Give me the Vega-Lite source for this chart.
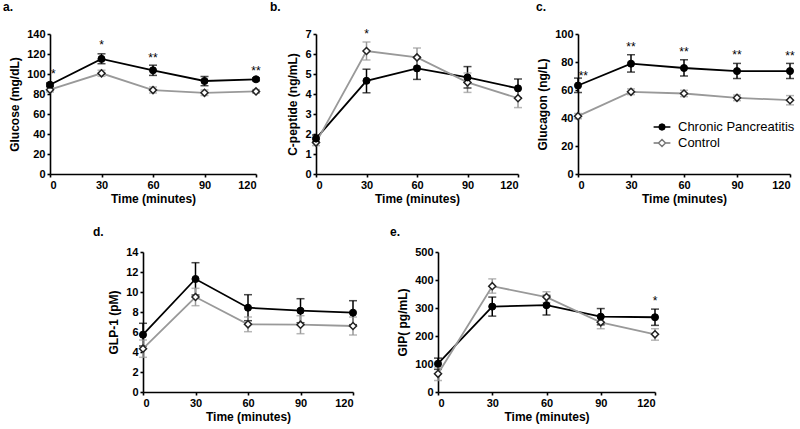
{
  "$schema": "https://vega.github.io/schema/vega-lite/v6.json",
  "padding": {"left": 3, "top": 1, "right": 2, "bottom": 2},
  "background": "#ffffff",
  "datasets": {
    "obs": [
      {"p": "a", "g": "Chronic Pancreatitis", "t": 0, "v": 89.3, "lo": 87.5, "hi": 91},
      {"p": "a", "g": "Chronic Pancreatitis", "t": 30, "v": 115.1, "lo": 110.3, "hi": 120.2},
      {"p": "a", "g": "Chronic Pancreatitis", "t": 60, "v": 103.7, "lo": 98.6, "hi": 108.8},
      {"p": "a", "g": "Chronic Pancreatitis", "t": 90, "v": 93, "lo": 88.3, "hi": 97.5},
      {"p": "a", "g": "Chronic Pancreatitis", "t": 120, "v": 94.7, "lo": 93.2, "hi": 96.2},
      {"p": "a", "g": "Control", "t": 0, "v": 84.3, "lo": 82, "hi": 86.5},
      {"p": "a", "g": "Control", "t": 30, "v": 100.7, "lo": 97.7, "hi": 103.8},
      {"p": "a", "g": "Control", "t": 60, "v": 83.9, "lo": 81, "hi": 87},
      {"p": "a", "g": "Control", "t": 90, "v": 81.2, "lo": 78.5, "hi": 84},
      {"p": "a", "g": "Control", "t": 120, "v": 82.6, "lo": 80.8, "hi": 84.4},
      {"p": "b", "g": "Chronic Pancreatitis", "t": 0, "v": 1.77, "lo": 1.6, "hi": 1.95},
      {"p": "b", "g": "Chronic Pancreatitis", "t": 30, "v": 4.66, "lo": 4.06, "hi": 5.24},
      {"p": "b", "g": "Chronic Pancreatitis", "t": 60, "v": 5.28, "lo": 4.73, "hi": 5.85},
      {"p": "b", "g": "Chronic Pancreatitis", "t": 90, "v": 4.83, "lo": 4.3, "hi": 5.37},
      {"p": "b", "g": "Chronic Pancreatitis", "t": 120, "v": 4.28, "lo": 3.8, "hi": 4.75},
      {"p": "b", "g": "Control", "t": 0, "v": 1.57, "lo": 1.42, "hi": 1.72},
      {"p": "b", "g": "Control", "t": 30, "v": 6.15, "lo": 5.7, "hi": 6.6},
      {"p": "b", "g": "Control", "t": 60, "v": 5.83, "lo": 5.38, "hi": 6.3},
      {"p": "b", "g": "Control", "t": 90, "v": 4.58, "lo": 4.08, "hi": 5.05},
      {"p": "b", "g": "Control", "t": 120, "v": 3.79, "lo": 3.32, "hi": 4.25},
      {"p": "c", "g": "Chronic Pancreatitis", "t": 0, "v": 63.2, "lo": 58.2, "hi": 68.5},
      {"p": "c", "g": "Chronic Pancreatitis", "t": 30, "v": 78.8, "lo": 72.8, "hi": 85.2},
      {"p": "c", "g": "Chronic Pancreatitis", "t": 60, "v": 75.7, "lo": 70, "hi": 81.6},
      {"p": "c", "g": "Chronic Pancreatitis", "t": 90, "v": 73.5, "lo": 68.2, "hi": 79},
      {"p": "c", "g": "Chronic Pancreatitis", "t": 120, "v": 73.5, "lo": 68.2, "hi": 79},
      {"p": "c", "g": "Control", "t": 0, "v": 41.3, "lo": 39.5, "hi": 43.2},
      {"p": "c", "g": "Control", "t": 30, "v": 58.7, "lo": 56.7, "hi": 60.8},
      {"p": "c", "g": "Control", "t": 60, "v": 57.5, "lo": 55.3, "hi": 59.8},
      {"p": "c", "g": "Control", "t": 90, "v": 54.4, "lo": 52.4, "hi": 56.4},
      {"p": "c", "g": "Control", "t": 120, "v": 52.7, "lo": 49.4, "hi": 56},
      {"p": "d", "g": "Chronic Pancreatitis", "t": 0, "v": 5.73, "lo": 4.6, "hi": 6.87},
      {"p": "d", "g": "Chronic Pancreatitis", "t": 30, "v": 11.3, "lo": 9.7, "hi": 12.93},
      {"p": "d", "g": "Chronic Pancreatitis", "t": 60, "v": 8.43, "lo": 7.13, "hi": 9.73},
      {"p": "d", "g": "Chronic Pancreatitis", "t": 90, "v": 8.13, "lo": 6.93, "hi": 9.33},
      {"p": "d", "g": "Chronic Pancreatitis", "t": 120, "v": 7.93, "lo": 6.73, "hi": 9.13},
      {"p": "d", "g": "Control", "t": 0, "v": 4.33, "lo": 3.47, "hi": 5.2},
      {"p": "d", "g": "Control", "t": 30, "v": 9.5, "lo": 8.63, "hi": 10.37},
      {"p": "d", "g": "Control", "t": 60, "v": 6.77, "lo": 6.03, "hi": 7.5},
      {"p": "d", "g": "Control", "t": 90, "v": 6.73, "lo": 5.83, "hi": 7.63},
      {"p": "d", "g": "Control", "t": 120, "v": 6.6, "lo": 5.7, "hi": 7.5},
      {"p": "e", "g": "Chronic Pancreatitis", "t": 0, "v": 101, "lo": 81, "hi": 121},
      {"p": "e", "g": "Chronic Pancreatitis", "t": 30, "v": 305, "lo": 271, "hi": 339},
      {"p": "e", "g": "Chronic Pancreatitis", "t": 60, "v": 310, "lo": 275, "hi": 345},
      {"p": "e", "g": "Chronic Pancreatitis", "t": 90, "v": 269, "lo": 240, "hi": 298},
      {"p": "e", "g": "Chronic Pancreatitis", "t": 120, "v": 267, "lo": 238, "hi": 296},
      {"p": "e", "g": "Control", "t": 0, "v": 65, "lo": 41, "hi": 89},
      {"p": "e", "g": "Control", "t": 30, "v": 378, "lo": 353, "hi": 404},
      {"p": "e", "g": "Control", "t": 60, "v": 339, "lo": 319, "hi": 358},
      {"p": "e", "g": "Control", "t": 90, "v": 249, "lo": 226, "hi": 272},
      {"p": "e", "g": "Control", "t": 120, "v": 206, "lo": 185, "hi": 226}
    ],
    "stars": [
      {"p": "a", "t": 2, "y": 102.7, "s": "*"},
      {"p": "a", "t": 30, "y": 132, "s": "*"},
      {"p": "a", "t": 60, "y": 119.5, "s": "**"},
      {"p": "a", "t": 120, "y": 106, "s": "**"},
      {"p": "b", "t": 30, "y": 7.13, "s": "*"},
      {"p": "c", "t": 3, "y": 72.5, "s": "**"},
      {"p": "c", "t": 30, "y": 93, "s": "**"},
      {"p": "c", "t": 60, "y": 89.5, "s": "**"},
      {"p": "c", "t": 90, "y": 87.3, "s": "**"},
      {"p": "c", "t": 120, "y": 86.6, "s": "**"},
      {"p": "e", "t": 120, "y": 334, "s": "*"}
    ]
  },
  "spacing": 22,
  "resolve": {"legend": {"shape": "independent", "fill": "independent", "stroke": "independent"}},
  "vconcat": [
    {
      "bounds": "flush",
      "spacing": 60,
      "resolve": {"legend": {"shape": "independent", "fill": "independent", "stroke": "independent"}},
      "hconcat": [
        {
          "width": 206, "height": 140,
          "title": {"text": "a.", "anchor": "start", "frame": "group", "dx": -47, "offset": 14},
          "data": {"name": "obs"},
          "transform": [{"filter": "datum.p === 'a'"}],
          "encoding": {
            "x": {"field": "t", "type": "quantitative", "scale": {"domain": [0, 120], "nice": false}, "axis": {"values": [0, 30, 60, 90, 120], "title": "Time (minutes)"}}
          },
          "layer": [
            {"mark": {"type": "rule", "strokeWidth": 1.5}, "encoding": {"y": {"field": "lo", "type": "quantitative", "scale": {"domain": [0, 140], "nice": false}, "axis": {"values": [0, 20, 40, 60, 80, 100, 120, 140], "labelOverlap": false, "title": "Glucose  (mg/dL)"}}, "y2": {"field": "hi"}, "color": {"field": "g", "type": "nominal", "scale": {"domain": ["Chronic Pancreatitis", "Control"], "range": ["#000000", "#999999"]}, "legend": null}}},
            {"mark": {"type": "tick", "orient": "horizontal", "size": 8, "thickness": 1.5}, "encoding": {"y": {"field": "hi", "type": "quantitative", "scale": {"domain": [0, 140], "nice": false}, "axis": {"values": [0, 20, 40, 60, 80, 100, 120, 140], "labelOverlap": false, "title": "Glucose  (mg/dL)"}}, "color": {"field": "g", "type": "nominal", "legend": null}}},
            {"mark": {"type": "tick", "orient": "horizontal", "size": 8, "thickness": 1.5}, "encoding": {"y": {"field": "lo", "type": "quantitative", "scale": {"domain": [0, 140], "nice": false}, "axis": {"values": [0, 20, 40, 60, 80, 100, 120, 140], "labelOverlap": false, "title": "Glucose  (mg/dL)"}}, "color": {"field": "g", "type": "nominal", "legend": null}}},
            {"mark": {"type": "line", "strokeWidth": 1.8}, "encoding": {"y": {"field": "v", "type": "quantitative", "scale": {"domain": [0, 140], "nice": false}, "axis": {"values": [0, 20, 40, 60, 80, 100, 120, 140], "labelOverlap": false, "title": "Glucose  (mg/dL)"}}, "color": {"field": "g", "type": "nominal", "legend": null}}},
            {"transform": [{"filter": "datum.g === 'Control'"}], "mark": {"type": "point", "shape": "diamond", "fill": "#ffffff", "stroke": "#222222", "strokeWidth": 1.5, "opacity": 1, "size": 50}, "encoding": {"y": {"field": "v", "type": "quantitative", "scale": {"domain": [0, 140], "nice": false}, "axis": {"values": [0, 20, 40, 60, 80, 100, 120, 140], "labelOverlap": false, "title": "Glucose  (mg/dL)"}}}},
            {"transform": [{"filter": "datum.g === 'Chronic Pancreatitis'"}], "mark": {"type": "point", "shape": "circle", "fill": "#000000", "stroke": "#000000", "strokeWidth": 1, "opacity": 1, "size": 50}, "encoding": {"y": {"field": "v", "type": "quantitative", "scale": {"domain": [0, 140], "nice": false}, "axis": {"values": [0, 20, 40, 60, 80, 100, 120, 140], "labelOverlap": false, "title": "Glucose  (mg/dL)"}}}},
            {"data": {"name": "stars"}, "transform": [{"filter": "datum.p === 'a'"}], "mark": {"type": "text", "fontSize": 12, "baseline": "middle", "dy": 3, "color": "#000"}, "encoding": {"y": {"field": "y", "type": "quantitative", "scale": {"domain": [0, 140], "nice": false}, "axis": {"values": [0, 20, 40, 60, 80, 100, 120, 140], "labelOverlap": false, "title": "Glucose  (mg/dL)"}}, "text": {"field": "s"}}}
          ]
        },
        {
          "width": 202, "height": 140,
          "title": {"text": "b.", "anchor": "start", "frame": "group", "dx": -46, "offset": 14},
          "data": {"name": "obs"},
          "transform": [{"filter": "datum.p === 'b'"}],
          "encoding": {
            "x": {"field": "t", "type": "quantitative", "scale": {"domain": [0, 120], "nice": false}, "axis": {"values": [0, 30, 60, 90, 120], "title": "Time (minutes)"}}
          },
          "layer": [
            {"mark": {"type": "rule", "strokeWidth": 1.5}, "encoding": {"y": {"field": "lo", "type": "quantitative", "scale": {"domain": [0, 7], "nice": false}, "axis": {"values": [0, 1, 2, 3, 4, 5, 6, 7], "labelOverlap": false, "title": "C-peptide (ng/mL)"}}, "y2": {"field": "hi"}, "color": {"field": "g", "type": "nominal", "legend": null}}},
            {"mark": {"type": "tick", "orient": "horizontal", "size": 8, "thickness": 1.5}, "encoding": {"y": {"field": "hi", "type": "quantitative", "scale": {"domain": [0, 7], "nice": false}, "axis": {"values": [0, 1, 2, 3, 4, 5, 6, 7], "labelOverlap": false, "title": "C-peptide (ng/mL)"}}, "color": {"field": "g", "type": "nominal", "legend": null}}},
            {"mark": {"type": "tick", "orient": "horizontal", "size": 8, "thickness": 1.5}, "encoding": {"y": {"field": "lo", "type": "quantitative", "scale": {"domain": [0, 7], "nice": false}, "axis": {"values": [0, 1, 2, 3, 4, 5, 6, 7], "labelOverlap": false, "title": "C-peptide (ng/mL)"}}, "color": {"field": "g", "type": "nominal", "legend": null}}},
            {"mark": {"type": "line", "strokeWidth": 1.8}, "encoding": {"y": {"field": "v", "type": "quantitative", "scale": {"domain": [0, 7], "nice": false}, "axis": {"values": [0, 1, 2, 3, 4, 5, 6, 7], "labelOverlap": false, "title": "C-peptide (ng/mL)"}}, "color": {"field": "g", "type": "nominal", "legend": null}}},
            {"transform": [{"filter": "datum.g === 'Control'"}], "mark": {"type": "point", "shape": "diamond", "fill": "#ffffff", "stroke": "#222222", "strokeWidth": 1.5, "opacity": 1, "size": 50}, "encoding": {"y": {"field": "v", "type": "quantitative", "scale": {"domain": [0, 7], "nice": false}, "axis": {"values": [0, 1, 2, 3, 4, 5, 6, 7], "labelOverlap": false, "title": "C-peptide (ng/mL)"}}}},
            {"transform": [{"filter": "datum.g === 'Chronic Pancreatitis'"}], "mark": {"type": "point", "shape": "circle", "fill": "#000000", "stroke": "#000000", "strokeWidth": 1, "opacity": 1, "size": 50}, "encoding": {"y": {"field": "v", "type": "quantitative", "scale": {"domain": [0, 7], "nice": false}, "axis": {"values": [0, 1, 2, 3, 4, 5, 6, 7], "labelOverlap": false, "title": "C-peptide (ng/mL)"}}}},
            {"data": {"name": "stars"}, "transform": [{"filter": "datum.p === 'b'"}], "mark": {"type": "text", "fontSize": 12, "baseline": "middle", "dy": 3, "color": "#000"}, "encoding": {"y": {"field": "y", "type": "quantitative", "scale": {"domain": [0, 7], "nice": false}, "axis": {"values": [0, 1, 2, 3, 4, 5, 6, 7], "labelOverlap": false, "title": "C-peptide (ng/mL)"}}, "text": {"field": "s"}}}
          ]
        },
        {
          "width": 212, "height": 140,
          "title": {"text": "c.", "anchor": "start", "frame": "group", "dx": -42, "offset": 14},
          "data": {"name": "obs"},
          "transform": [{"filter": "datum.p === 'c'"}],
          "encoding": {
            "x": {"field": "t", "type": "quantitative", "scale": {"domain": [0, 120], "nice": false}, "axis": {"values": [0, 30, 60, 90, 120], "title": "Time (minutes)"}}
          },
          "layer": [
            {"mark": {"type": "rule", "strokeWidth": 1.5}, "encoding": {"y": {"field": "lo", "type": "quantitative", "scale": {"domain": [0, 100], "nice": false}, "axis": {"values": [0, 20, 40, 60, 80, 100], "labelOverlap": false, "title": "Glucagon (ng/L)"}}, "y2": {"field": "hi"}, "color": {"field": "g", "type": "nominal", "legend": null}}},
            {"mark": {"type": "tick", "orient": "horizontal", "size": 8, "thickness": 1.5}, "encoding": {"y": {"field": "hi", "type": "quantitative", "scale": {"domain": [0, 100], "nice": false}, "axis": {"values": [0, 20, 40, 60, 80, 100], "labelOverlap": false, "title": "Glucagon (ng/L)"}}, "color": {"field": "g", "type": "nominal", "legend": null}}},
            {"mark": {"type": "tick", "orient": "horizontal", "size": 8, "thickness": 1.5}, "encoding": {"y": {"field": "lo", "type": "quantitative", "scale": {"domain": [0, 100], "nice": false}, "axis": {"values": [0, 20, 40, 60, 80, 100], "labelOverlap": false, "title": "Glucagon (ng/L)"}}, "color": {"field": "g", "type": "nominal", "legend": null}}},
            {"mark": {"type": "line", "strokeWidth": 1.8}, "encoding": {"y": {"field": "v", "type": "quantitative", "scale": {"domain": [0, 100], "nice": false}, "axis": {"values": [0, 20, 40, 60, 80, 100], "labelOverlap": false, "title": "Glucagon (ng/L)"}}, "color": {"field": "g", "type": "nominal", "legend": null}}},
            {"transform": [{"filter": "datum.g === 'Control'"}], "mark": {"type": "point", "shape": "diamond", "fill": "#ffffff", "stroke": "#222222", "strokeWidth": 1.5, "opacity": 1, "size": 50}, "encoding": {"y": {"field": "v", "type": "quantitative", "scale": {"domain": [0, 100], "nice": false}, "axis": {"values": [0, 20, 40, 60, 80, 100], "labelOverlap": false, "title": "Glucagon (ng/L)"}}}},
            {"transform": [{"filter": "datum.g === 'Chronic Pancreatitis'"}], "mark": {"type": "point", "shape": "circle", "fill": "#000000", "stroke": "#000000", "strokeWidth": 1, "opacity": 1, "size": 50}, "encoding": {"y": {"field": "v", "type": "quantitative", "scale": {"domain": [0, 100], "nice": false}, "axis": {"values": [0, 20, 40, 60, 80, 100], "labelOverlap": false, "title": "Glucagon (ng/L)"}}}},
            {"transform": [{"filter": "false"}], "mark": {"type": "point", "opacity": 1, "size": 50, "strokeWidth": 1.5}, "encoding": {"y": {"field": "v", "type": "quantitative", "scale": {"domain": [0, 100], "nice": false}, "axis": {"values": [0, 20, 40, 60, 80, 100], "labelOverlap": false, "title": "Glucagon (ng/L)"}},
              "shape": {"field": "g", "type": "nominal", "scale": {"domain": ["Chronic Pancreatitis", "Control"], "range": ["M-1.2,0H1.2M-0.43,0L-0.3,-0.3L0,-0.43L0.3,-0.3L0.43,0L0.3,0.3L0,0.43L-0.3,0.3Z", "M-1.2,0H-0.5M0.5,0H1.2M-0.5,0L0,-0.5L0.5,0L0,0.5Z"]}, "legend": {"orient": "none", "legendX": 76, "legendY": 85, "title": null, "labelFontSize": 13, "labelFont": "Liberation Sans", "labelFontWeight": "normal", "labelColor": "#000", "symbolSize": 196, "symbolStrokeWidth": 1.5, "rowPadding": 1, "labelOffset": 8}},
              "fill": {"field": "g", "type": "nominal", "scale": {"domain": ["Chronic Pancreatitis", "Control"], "range": ["#000000", "#ffffff"]}, "legend": {"orient": "none", "legendX": 76, "legendY": 85, "title": null, "labelFontSize": 13, "labelFont": "Liberation Sans", "labelFontWeight": "normal", "labelColor": "#000", "symbolSize": 196, "symbolStrokeWidth": 1.5, "rowPadding": 1, "labelOffset": 8}},
              "stroke": {"field": "g", "type": "nominal", "scale": {"domain": ["Chronic Pancreatitis", "Control"], "range": ["#000000", "#777777"]}, "legend": {"orient": "none", "legendX": 76, "legendY": 85, "title": null, "labelFontSize": 13, "labelFont": "Liberation Sans", "labelFontWeight": "normal", "labelColor": "#000", "symbolSize": 196, "symbolStrokeWidth": 1.5, "rowPadding": 1, "labelOffset": 8}}}},
            {"data": {"name": "stars"}, "transform": [{"filter": "datum.p === 'c'"}], "mark": {"type": "text", "fontSize": 12, "baseline": "middle", "dy": 3, "color": "#000"}, "encoding": {"y": {"field": "y", "type": "quantitative", "scale": {"domain": [0, 100], "nice": false}, "axis": {"values": [0, 20, 40, 60, 80, 100], "labelOverlap": false, "title": "Glucagon (ng/L)"}}, "text": {"field": "s"}}}
          ]
        }
      ]
    },
    {
      "bounds": "flush",
      "spacing": 85,
      "hconcat": [
        {"width": 8, "height": 140, "data": {"values": []}, "mark": "point"},
        {
          "width": 210, "height": 140,
          "title": {"text": "d.", "anchor": "start", "frame": "group", "dx": -50, "offset": 7},
          "data": {"name": "obs"},
          "transform": [{"filter": "datum.p === 'd'"}],
          "encoding": {
            "x": {"field": "t", "type": "quantitative", "scale": {"domain": [0, 120], "nice": false}, "axis": {"values": [0, 30, 60, 90, 120], "title": "Time (minutes)"}}
          },
          "layer": [
            {"mark": {"type": "rule", "strokeWidth": 1.5}, "encoding": {"y": {"field": "lo", "type": "quantitative", "scale": {"domain": [0, 14], "nice": false}, "axis": {"values": [0, 2, 4, 6, 8, 10, 12, 14], "labelOverlap": false, "title": "GLP-1  (pM)"}}, "y2": {"field": "hi"}, "color": {"field": "g", "type": "nominal", "legend": null}}},
            {"mark": {"type": "tick", "orient": "horizontal", "size": 8, "thickness": 1.5}, "encoding": {"y": {"field": "hi", "type": "quantitative", "scale": {"domain": [0, 14], "nice": false}, "axis": {"values": [0, 2, 4, 6, 8, 10, 12, 14], "labelOverlap": false, "title": "GLP-1  (pM)"}}, "color": {"field": "g", "type": "nominal", "legend": null}}},
            {"mark": {"type": "tick", "orient": "horizontal", "size": 8, "thickness": 1.5}, "encoding": {"y": {"field": "lo", "type": "quantitative", "scale": {"domain": [0, 14], "nice": false}, "axis": {"values": [0, 2, 4, 6, 8, 10, 12, 14], "labelOverlap": false, "title": "GLP-1  (pM)"}}, "color": {"field": "g", "type": "nominal", "legend": null}}},
            {"mark": {"type": "line", "strokeWidth": 1.8}, "encoding": {"y": {"field": "v", "type": "quantitative", "scale": {"domain": [0, 14], "nice": false}, "axis": {"values": [0, 2, 4, 6, 8, 10, 12, 14], "labelOverlap": false, "title": "GLP-1  (pM)"}}, "color": {"field": "g", "type": "nominal", "legend": null}}},
            {"transform": [{"filter": "datum.g === 'Control'"}], "mark": {"type": "point", "shape": "diamond", "fill": "#ffffff", "stroke": "#222222", "strokeWidth": 1.5, "opacity": 1, "size": 50}, "encoding": {"y": {"field": "v", "type": "quantitative", "scale": {"domain": [0, 14], "nice": false}, "axis": {"values": [0, 2, 4, 6, 8, 10, 12, 14], "labelOverlap": false, "title": "GLP-1  (pM)"}}}},
            {"transform": [{"filter": "datum.g === 'Chronic Pancreatitis'"}], "mark": {"type": "point", "shape": "circle", "fill": "#000000", "stroke": "#000000", "strokeWidth": 1, "opacity": 1, "size": 50}, "encoding": {"y": {"field": "v", "type": "quantitative", "scale": {"domain": [0, 14], "nice": false}, "axis": {"values": [0, 2, 4, 6, 8, 10, 12, 14], "labelOverlap": false, "title": "GLP-1  (pM)"}}}}
          ]
        },
        {
          "width": 217, "height": 140,
          "title": {"text": "e.", "anchor": "start", "frame": "group", "dx": -48, "offset": 7},
          "data": {"name": "obs"},
          "transform": [{"filter": "datum.p === 'e'"}],
          "encoding": {
            "x": {"field": "t", "type": "quantitative", "scale": {"domain": [0, 120], "nice": false}, "axis": {"values": [0, 30, 60, 90, 120], "title": "Time (minutes)"}}
          },
          "layer": [
            {"mark": {"type": "rule", "strokeWidth": 1.5}, "encoding": {"y": {"field": "lo", "type": "quantitative", "scale": {"domain": [0, 500], "nice": false}, "axis": {"values": [0, 100, 200, 300, 400, 500], "labelOverlap": false, "title": "GIP( pg/mL)"}}, "y2": {"field": "hi"}, "color": {"field": "g", "type": "nominal", "legend": null}}},
            {"mark": {"type": "tick", "orient": "horizontal", "size": 8, "thickness": 1.5}, "encoding": {"y": {"field": "hi", "type": "quantitative", "scale": {"domain": [0, 500], "nice": false}, "axis": {"values": [0, 100, 200, 300, 400, 500], "labelOverlap": false, "title": "GIP( pg/mL)"}}, "color": {"field": "g", "type": "nominal", "legend": null}}},
            {"mark": {"type": "tick", "orient": "horizontal", "size": 8, "thickness": 1.5}, "encoding": {"y": {"field": "lo", "type": "quantitative", "scale": {"domain": [0, 500], "nice": false}, "axis": {"values": [0, 100, 200, 300, 400, 500], "labelOverlap": false, "title": "GIP( pg/mL)"}}, "color": {"field": "g", "type": "nominal", "legend": null}}},
            {"mark": {"type": "line", "strokeWidth": 1.8}, "encoding": {"y": {"field": "v", "type": "quantitative", "scale": {"domain": [0, 500], "nice": false}, "axis": {"values": [0, 100, 200, 300, 400, 500], "labelOverlap": false, "title": "GIP( pg/mL)"}}, "color": {"field": "g", "type": "nominal", "legend": null}}},
            {"transform": [{"filter": "datum.g === 'Control'"}], "mark": {"type": "point", "shape": "diamond", "fill": "#ffffff", "stroke": "#222222", "strokeWidth": 1.5, "opacity": 1, "size": 50}, "encoding": {"y": {"field": "v", "type": "quantitative", "scale": {"domain": [0, 500], "nice": false}, "axis": {"values": [0, 100, 200, 300, 400, 500], "labelOverlap": false, "title": "GIP( pg/mL)"}}}},
            {"transform": [{"filter": "datum.g === 'Chronic Pancreatitis'"}], "mark": {"type": "point", "shape": "circle", "fill": "#000000", "stroke": "#000000", "strokeWidth": 1, "opacity": 1, "size": 50}, "encoding": {"y": {"field": "v", "type": "quantitative", "scale": {"domain": [0, 500], "nice": false}, "axis": {"values": [0, 100, 200, 300, 400, 500], "labelOverlap": false, "title": "GIP( pg/mL)"}}}},
            {"data": {"name": "stars"}, "transform": [{"filter": "datum.p === 'e'"}], "mark": {"type": "text", "fontSize": 12, "baseline": "middle", "dy": 3, "color": "#000"}, "encoding": {"y": {"field": "y", "type": "quantitative", "scale": {"domain": [0, 500], "nice": false}, "axis": {"values": [0, 100, 200, 300, 400, 500], "labelOverlap": false, "title": "GIP( pg/mL)"}}, "text": {"field": "s"}}}
          ]
        }
      ]
    }
  ],
  "config": {
    "view": {"stroke": null},
    "font": "Liberation Sans",
    "title": {"font": "Liberation Sans", "fontSize": 12, "fontWeight": "bold", "color": "#000"},
    "axis": {
      "grid": false,
      "domainColor": "#000", "domainWidth": 1.6,
      "tickColor": "#000", "tickWidth": 1.6, "tickSize": 3,
      "labelFont": "Liberation Sans", "labelFontSize": 11, "labelFontWeight": "bold", "labelColor": "#000", "labelPadding": 2, "labelOverlap": false,
      "titleFont": "Liberation Sans", "titleFontSize": 12, "titleFontWeight": "bold", "titleColor": "#000", "titlePadding": 3
    },
    "axisY": {"labelPadding": 2, "titlePadding": 5}
  }
}
